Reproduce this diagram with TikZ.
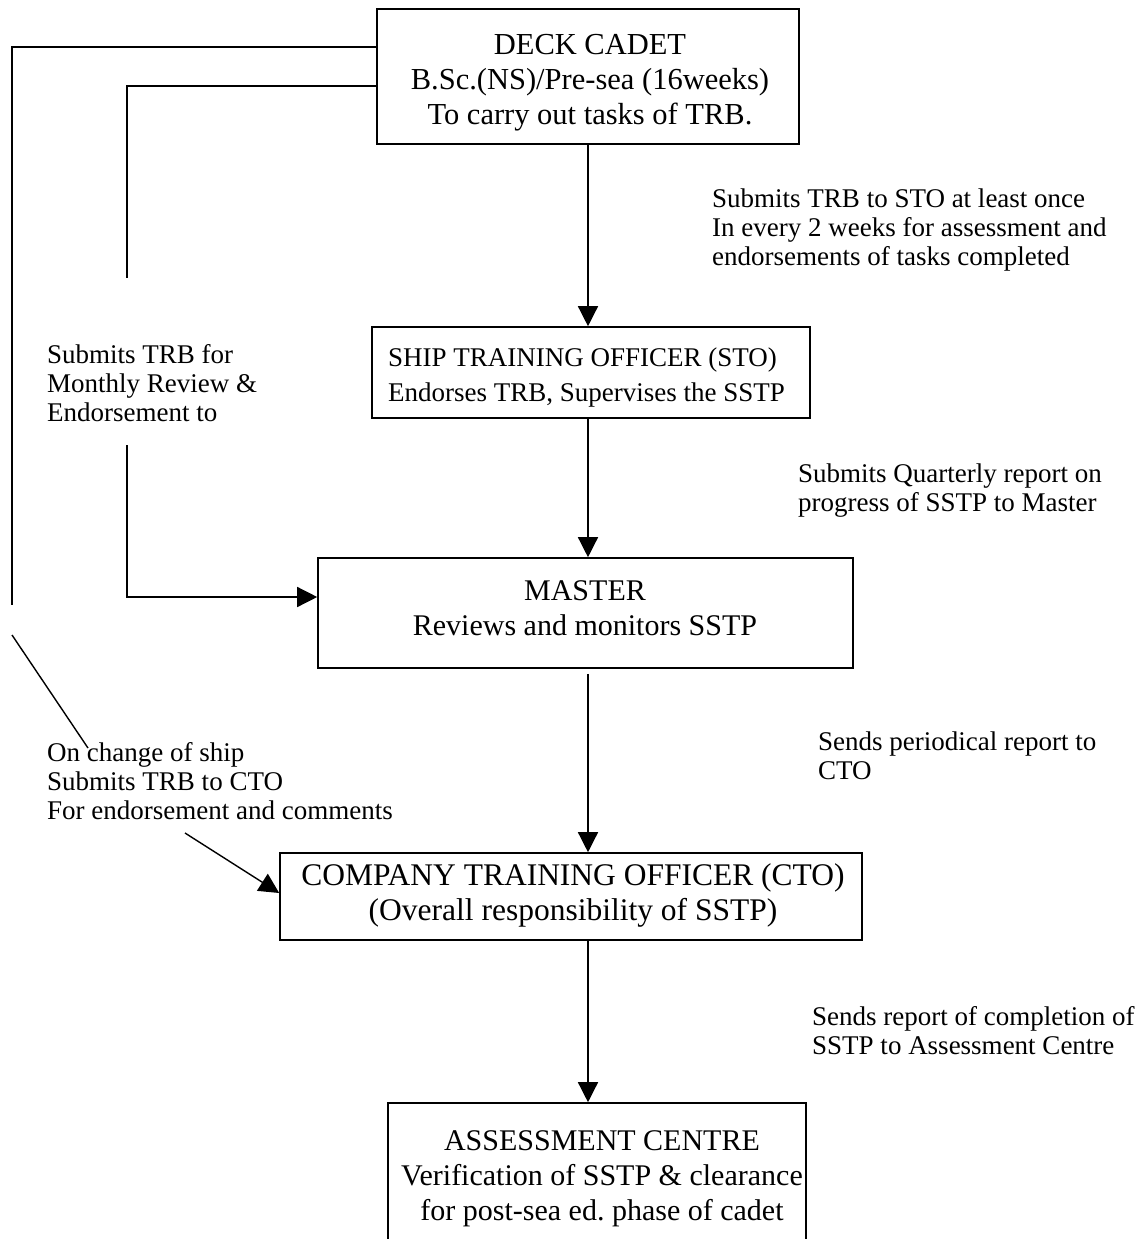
\documentclass[tikz,border=0pt]{standalone}
\usepackage{fontspec}
\setmainfont{Liberation Serif}
\usetikzlibrary{arrows.meta}
\frenchspacing
\begin{document}
\begin{tikzpicture}[x=1pt,y=-1pt,
  box/.style={draw, line width=1.6pt, inner sep=0pt},
  big/.style={font=\fontsize{30}{35}\selectfont, align=center, inner sep=0pt},
  bigleft/.style={font=\fontsize{27}{35}\selectfont, align=left, inner sep=0pt, anchor=west},
  small/.style={font=\fontsize{27}{29}\selectfont, align=left, inner sep=0pt, anchor=west},
  conn/.style={line width=1.4pt},
  arr/.style={conn, -{Triangle[length=20pt,width=20pt]}}]
\useasboundingbox (0,0) rectangle (1141,1239);
\clip (0,0) rectangle (1141,1239);
\fill[white] (0,0) rectangle (1141,1239);

% boxes
\node[box, minimum width=422pt, minimum height=135pt] (deck) at (588,76.5) {};
\node[box, minimum width=438pt, minimum height=91pt] (sto) at (591,372.5) {};
\node[box, minimum width=535pt, minimum height=110pt] (master) at (585.5,613) {};
\node[box, minimum width=582pt, minimum height=87pt] (cto) at (571,896.5) {};
\node[box, minimum width=418pt, minimum height=160pt] (ac) at (597,1183) {};

% box texts
\node[big, font=\fontsize{30.5}{35}\selectfont] (deckt) at (590,82.5) {DECK CADET\\B.Sc.(NS)/Pre-sea (16weeks)\\To carry out tasks of TRB.};
\node[bigleft] (stot) at (388,378) {SHIP TRAINING OFFICER (STO)\\Endorses TRB, Supervises the SSTP};
\node[big] (mastert) at (585,608.5) {MASTER\\Reviews and monitors SSTP};
\node[big, font=\fontsize{31.5}{35}\selectfont] (ctot) at (573,895.5) {COMPANY TRAINING OFFICER (CTO)\\(Overall responsibility of SSTP)};
\node[big] (act) at (602,1179) {ASSESSMENT CENTRE\\Verification of SSTP \& clearance\\for post-sea ed. phase of cadet};

% side labels
\node[small] (l1) at (712,230) {Submits TRB to STO at least once\\In every 2 weeks for assessment and\\endorsements of tasks completed};
\node[small] (l2) at (47,383) {Submits TRB for\\Monthly Review \&\\Endorsement to};
\node[small] (l3) at (798,490.5) {Submits Quarterly report on\\progress of SSTP to Master};
\node[small] (l4) at (818,755.5) {Sends periodical report to\\CTO};
\node[small] (l5) at (47,781) {On change of ship\\Submits TRB to CTO\\For endorsement and comments};
\node[small] (l6) at (812,1030.5) {Sends report of completion of\\SSTP to Assessment Centre};

% main spine
\draw[arr] (deck.south) -- (deck.south |- sto.north);
\draw[arr] (deck.south |- sto.south) -- (deck.south |- master.north);
\draw[arr] ([yshift=-5pt]deck.south |- master.south) -- (deck.south |- cto.north);
\draw[arr] (deck.south |- cto.south) -- (deck.south |- ac.north);

% outer left line
\coordinate (o1) at (12,47);
\coordinate (o2) at (12,605);
\coordinate (o3) at (12,635);
\coordinate (o4) at (88,748);
\draw[conn] ([yshift=29.5pt]deck.west) -- (o1) -- (o2);
\draw[conn] (o3) -- (o4);

% inner left line
\coordinate (i1) at (127,86);
\coordinate (i2) at (127,278);
\coordinate (i3) at (127,445);
\draw[conn] ([yshift=-9.5pt]deck.west) -- (i1) -- (i2);
\draw[arr] (i3) |- ([yshift=16pt]master.west);

% diagonal arrow to CTO
\coordinate (d1) at (185,833);
\draw[arr] (d1) -- ([yshift=3.5pt]cto.west);
\end{tikzpicture}
\end{document}
